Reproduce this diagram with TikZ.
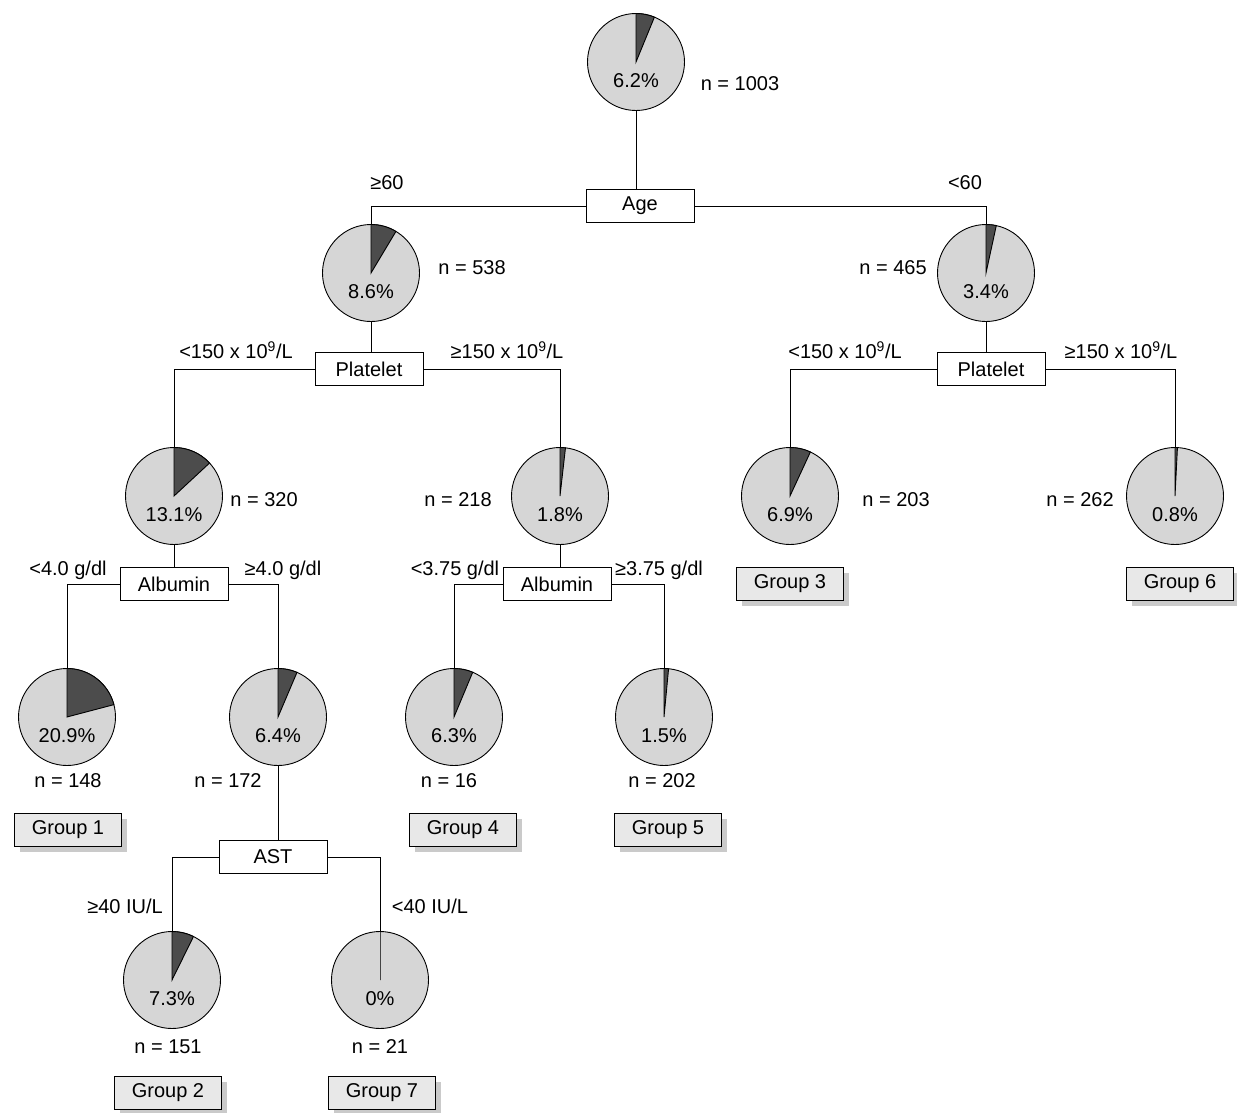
\documentclass[tikz,border=0pt]{standalone}
\usepackage{fontspec}
\setmainfont{Liberation Sans}
\usetikzlibrary{shadows}
\definecolor{piegray}{gray}{0.84}
\definecolor{wedgegray}{gray}{0.3}

\begin{document}
\begin{tikzpicture}[x=1pt, y=-1pt, line width=0.9pt, every node/.style={font=\fontsize{20}{24}\selectfont},
	pie/.style={circle, draw, fill=piegray, minimum size=97pt, inner sep=0pt},
	split/.style={draw, fill=white, minimum width=108pt, minimum height=33pt, inner sep=0pt},
	grp/.style={draw, fill=gray!18, minimum width=107pt, minimum height=33pt, inner sep=0pt,
		drop shadow={shadow xshift=5pt, shadow yshift=-5pt, fill=gray!70, opacity=0.6}}]
	\useasboundingbox (0,0) rectangle (1237,1113);
	% pies: name/x/y/percent/label x/label y
	\foreach \nm/\x/\y/\p/\lx/\ly in {1003/636/62/6.2/740/84, 538/371/273/8.6/472/268, 465/986/273/3.4/893/268,
		320/174/496/13.1/264/500, 218/560/496/1.8/458/500, 203/790/496/6.9/896/500, 262/1175/496/0.8/1080/500,
		148/67/717/20.9/68/781, 172/278/717/6.4/228/781, 16/454/717/6.3/449/781, 202/664/717/1.5/662/781,
		151/172/980/7.3/168/1047, 21/380/980/0/380/1047} {
		\node[pie] (n\nm) at (\x,\y) {};
		\filldraw[fill=wedgegray] (n\nm.center) -- ++(90:48.5pt) arc[start angle=90, end angle={90-3.6*\p}, radius=48.5pt] -- cycle;
		\node (n\nm-pct) at (\x,\y+19) {\p\%};
		\node (n\nm-lab) at (\lx,\ly) {n = \nm};
	}
	% splits
	\node[split] (age) at (640,206) {Age};
	\node[split] (plt1) at (369,369) {Platelet};
	\node[split] (plt2) at (991,369) {Platelet};
	\node[split] (alb1) at (174,584) {Albumin};
	\node[split] (alb2) at (557,584) {Albumin};
	\node[split] (ast) at (273,857) {AST};
	% groups
	\foreach \g/\x/\y in {1/68/830, 2/168/1093, 3/790/584, 4/463/830, 5/668/830, 6/1180/584, 7/382/1093}
		\node[grp] (grp\g) at (\x,\y) {Group \g};
	% branch labels
	\foreach \i/\x/\y/\t in {1/387/183/{≥60}, 2/965/183/{<60},
		3/236/350/{<150 x 10\textsuperscript{9}/L}, 4/507/350/{≥150 x 10\textsuperscript{9}/L},
		5/845/350/{<150 x 10\textsuperscript{9}/L}, 6/1121/350/{≥150 x 10\textsuperscript{9}/L},
		7/68/570/{<4.0 g/dl}, 8/283/570/{≥4.0 g/dl}, 9/455/570/{<3.75 g/dl}, 10/659/570/{≥3.75 g/dl},
		11/125/906/{≥40 IU/L}, 12/430/906/{<40 IU/L}}
		\node (br\i) at (\x,\y) {\t};
	% tree
	\draw (n1003.south) -- (n1003.south |- age.north);
	\draw (age.west) -| (n538.north);
	\draw (age.east) -| (n465.north);
	\draw (n538.south) -- (n538.south |- plt1.north);
	\draw (plt1.west) -| (n320.north);
	\draw (plt1.east) -| (n218.north);
	\draw (n465.south) -- (n465.south |- plt2.north);
	\draw (plt2.west) -| (n203.north);
	\draw (plt2.east) -| (n262.north);
	\draw (n320.south) -- (n320.south |- alb1.north);
	\draw (alb1.west) -| (n148.north);
	\draw (alb1.east) -| (n172.north);
	\draw (n218.south) -- (n218.south |- alb2.north);
	\draw (alb2.west) -| (n16.north);
	\draw (alb2.east) -| (n202.north);
	\draw (n172.south) -- (n172.south |- ast.north);
	\draw (ast.west) -| (n151.north);
	\draw (ast.east) -| (n21.north);
\end{tikzpicture}
\end{document}
